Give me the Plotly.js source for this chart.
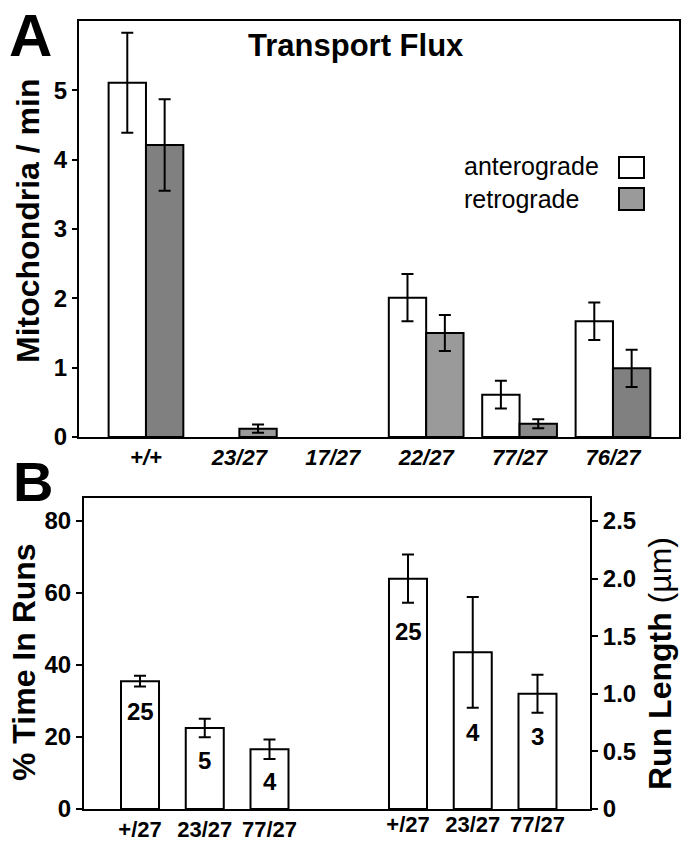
<!DOCTYPE html>
<html>
<head>
<meta charset="utf-8">
<script src="https://cdn.plot.ly/plotly-3.0.1.min.js"></script>
<style>html,body{margin:0;padding:0;background:#fff;}#chart{width:688px;height:844px;}</style>
</head>
<body>
<div id="chart"></div>
<script>
// ---------- data ----------
const fluxCategories = ['+/+', '23/27', '17/27', '22/27', '77/27', '76/27'];
const anteroFlux     = [5.11, 0, 0, 2.01, 0.61, 1.67];
const anteroFluxErr  = [0.72, NaN, NaN, 0.34, 0.20, 0.27];   // NaN: no error bar drawn
const retroFlux      = [4.21, 0.12, 0, 1.50, 0.19, 0.99];
const retroFluxErr   = [0.66, 0.06, NaN, 0.26, 0.065, 0.27];
const fluxTicks      = [0, 1, 2, 3, 4, 5];

const runCategories  = ['+/27', '23/27', '77/27'];
const timeInRuns     = [35.5, 22.5, 16.6];
const timeInRunsErr  = [1.5, 2.6, 2.7];
const timeInRunsN    = ['25', '5', '4'];
const runLength      = [2.0, 1.36, 1.0];
const runLengthErr   = [0.21, 0.48, 0.165];
const runLengthN     = ['25', '4', '3'];
const timeTicks      = [0, 20, 40, 60, 80];
const lengthTickVals = [0, 0.5, 1.0, 1.5, 2.0, 2.5];
const lengthTickText = ['0', '0.5', '1.0', '1.5', '2.0', '2.5'];

// ---------- styles / layout helpers ----------
const W = 688, H = 844;
const fx = x => x / W;
const fy = y => 1 - y / H;
const SANS = 'Liberation Sans, Arial, Helvetica, sans-serif';
const retroColors = ['#808080', '#9a9a9a', '#9a9a9a', '#9a9a9a', '#8a8a8a', '#808080'];
// zero-height bars get no outline so they vanish into the axis line
const outlineW = arr => arr.map(v => (v > 0 ? 2 : 0));
const errStyle = {type: 'data', color: '#000', thickness: 2, width: 6};
const lineBlack = {color: '#000', width: 2};

const traces = [
  {type: 'bar', name: 'anterograde', x: fluxCategories, y: anteroFlux,
   xaxis: 'x', yaxis: 'y',
   marker: {color: '#ffffff', line: {color: '#000', width: outlineW(anteroFlux)}},
   error_y: Object.assign({array: anteroFluxErr}, errStyle)},
  {type: 'bar', name: 'retrograde', x: fluxCategories, y: retroFlux,
   xaxis: 'x', yaxis: 'y',
   marker: {color: retroColors, line: {color: '#000', width: outlineW(retroFlux)}},
   error_y: Object.assign({array: retroFluxErr}, errStyle)},
  {type: 'bar', name: '% time in runs', x: runCategories, y: timeInRuns,
   xaxis: 'x2', yaxis: 'y2', width: 0.587,
   marker: {color: '#ffffff', line: lineBlack},
   error_y: Object.assign({array: timeInRunsErr}, errStyle)},
  {type: 'bar', name: 'run length', x: runCategories, y: runLength,
   xaxis: 'x3', yaxis: 'y3', width: 0.587,
   marker: {color: '#ffffff', line: lineBlack},
   error_y: Object.assign({array: runLengthErr}, errStyle)}
];

const tickFontBold = {family: SANS, size: 24, color: '#000', weight: 'bold'};
const catFont = {family: SANS, size: 22, color: '#000', weight: 'bold'};
const axisBase = {showgrid: false, zeroline: false, showline: true, linecolor: '#000',
                  linewidth: 2, fixedrange: true};

const nLabelYLeft = [27, 13.6, 7.6];        // label positions inside bars (left axis units)
const nLabelYRight = [1.544, 0.666, 0.629]; // label positions inside bars (right axis units)

const annotations = [];
function addText(text, x, y, size, opts) {
  annotations.push(Object.assign({
    text: text, x: fx(x), y: fy(y), xref: 'paper', yref: 'paper',
    xanchor: 'center', yanchor: 'middle', showarrow: false,
    font: {family: SANS, size: size, color: '#000'}
  }, opts || {}));
}
addText('<b>A</b>', 31, 0, 60, {yanchor: 'top'});
addText('<b>B</b>', 33, 482, 56);
addText('<b>Transport Flux</b>', 356, 46, 31);
addText('<b>Mitochondria / min</b>', 28, 221, 32, {textangle: -90});
addText('<b>% Time In Runs</b>', 24, 662, 32, {textangle: -90});
addText('<b>Run Length</b> (\u00b5m)', 660, 664, 32, {textangle: -90});
addText('anterograde', 462, 166, 25, {xanchor: 'left'});
addText('retrograde', 462, 199, 25, {xanchor: 'left'});

runCategories.forEach((c, i) => {
  annotations.push({text: '<b>' + timeInRunsN[i] + '</b>', x: c, y: nLabelYLeft[i],
    xref: 'x2', yref: 'y2', showarrow: false, xanchor: 'center', yanchor: 'middle',
    font: {family: SANS, size: 24, color: '#000'}});
  annotations.push({text: '<b>' + runLengthN[i] + '</b>', x: c, y: nLabelYRight[i],
    xref: 'x3', yref: 'y3', showarrow: false, xanchor: 'center', yanchor: 'middle',
    font: {family: SANS, size: 24, color: '#000'}});
});

const shapes = [
  {type: 'rect', xref: 'paper', yref: 'paper', x0: fx(619), x1: fx(644), y0: fy(178), y1: fy(157),
   fillcolor: '#ffffff', line: lineBlack},
  {type: 'rect', xref: 'paper', yref: 'paper', x0: fx(619), x1: fx(644), y0: fy(210), y1: fy(188),
   fillcolor: '#9a9a9a', line: lineBlack}
];

const layout = {
  width: W, height: H,
  margin: {l: 0, r: 0, t: 0, b: 0},
  paper_bgcolor: '#ffffff', plot_bgcolor: 'rgba(0,0,0,0)',
  showlegend: false,
  barmode: 'group', bargap: 0.2, bargroupgap: 0,
  xaxis: Object.assign({}, axisBase, {
    domain: [fx(79), fx(679)], anchor: 'y', type: 'category',
    range: [-0.717, 5.707], mirror: true, ticks: '',
    tickfont: Object.assign({}, catFont, {style: 'italic'})
  }),
  yaxis: Object.assign({}, axisBase, {
    domain: [fy(437), fy(21)], anchor: 'x', range: [0, 6],
    tickvals: fluxTicks, ticks: 'outside', ticklen: 5, tickwidth: 2, tickcolor: '#000',
    mirror: true, tickfont: tickFontBold
  }),
  xaxis2: Object.assign({}, axisBase, {
    domain: [fx(84), fx(590)], anchor: 'y2', type: 'category',
    range: [-0.865, 6.95], mirror: true, ticks: '',
    tickfont: catFont
  }),
  xaxis3: Object.assign({}, axisBase, {
    domain: [fx(84), fx(590)], anchor: 'y2', overlaying: 'x2', type: 'category',
    range: [-5.004, 2.811], ticks: '', showline: false,
    tickfont: catFont
  }),
  yaxis2: Object.assign({}, axisBase, {
    domain: [fy(809), fy(498)], anchor: 'x2', range: [0, 86.4],
    tickvals: timeTicks, ticks: 'outside', ticklen: 6, tickwidth: 2, tickcolor: '#000',
    tickfont: tickFontBold
  }),
  yaxis3: Object.assign({}, axisBase, {
    domain: [fy(809), fy(498)], anchor: 'x2', overlaying: 'y2', side: 'right',
    range: [0, 2.70],
    tickvals: lengthTickVals, ticktext: lengthTickText,
    ticks: 'outside', ticklen: 6, tickwidth: 2, tickcolor: '#000',
    tickfont: tickFontBold
  }),
  annotations: annotations,
  shapes: shapes
};

Plotly.newPlot('chart', traces, layout, {displayModeBar: false, staticPlot: true});
</script>
</body>
</html>
